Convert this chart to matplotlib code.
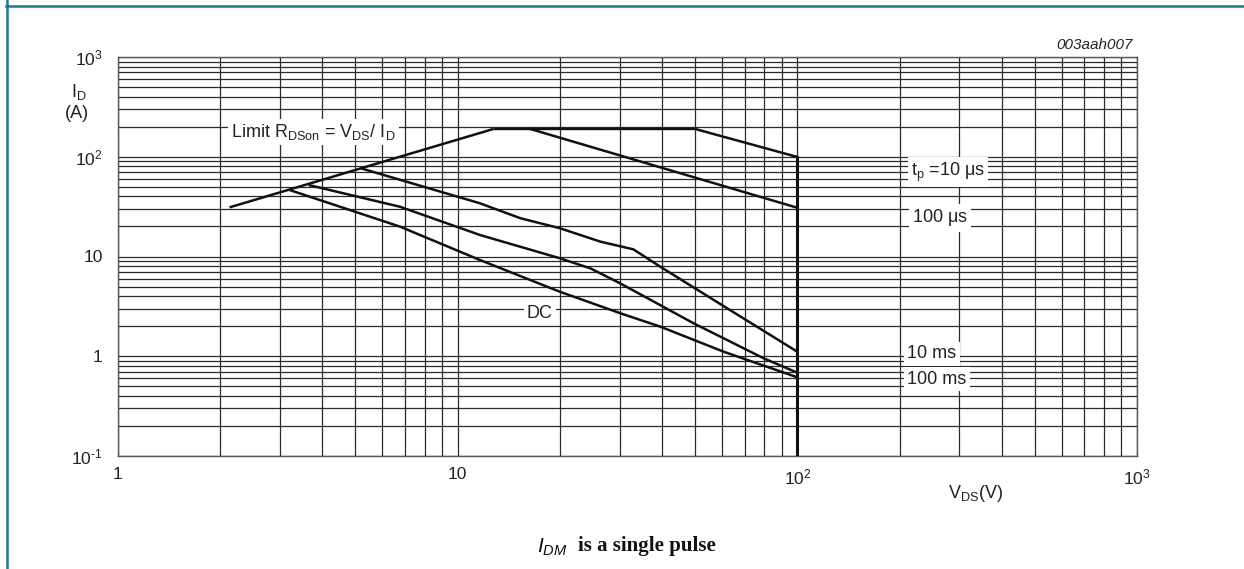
import matplotlib
matplotlib.use("Agg")
import matplotlib.pyplot as plt
from matplotlib.lines import Line2D
from matplotlib.ticker import LogLocator, NullFormatter

plt.rcParams['font.family'] = ['Liberation Sans', 'DejaVu Sans']
plt.rcParams['mathtext.fontset'] = 'custom'
plt.rcParams['mathtext.rm'] = 'Liberation Sans'
plt.rcParams['mathtext.it'] = 'Liberation Sans:italic'

# ---- data ----
rdson_v = [2.13, 12.75]
rdson_i = [31.1, 190]

tp10us_v = [12.75, 50, 100]
tp10us_i = [190, 190, 99.5]

tp100us_v = [16.35, 100]
tp100us_i = [190, 30.8]

tp10ms_v = [5.19, 11.65, 12.75, 15.3, 20, 26.3, 32.9, 39.5, 62.1, 100]
tp10ms_i = [76.6, 34.1, 30.4, 24.2, 19.2, 14.1, 11.8, 7.9, 3.03, 1.11]

tp100ms_v = [3.64, 6.77, 11.65, 20, 24.6, 30.1, 49.5, 79.6, 100]
tp100ms_i = [52.1, 31.5, 16.4, 9.6, 7.6, 5.38, 2.14, 0.954, 0.684]

dc_v = [3.2, 6.77, 11.65, 20, 30.1, 39.5, 60.7, 100]
dc_i = [46.4, 19.9, 9.2, 4.43, 2.70, 1.98, 1.11, 0.615]

vds_max = 100
x_ticks = [1, 10, 100, 1000]
x_ticklabels = ['1', '10', r'$\mathregular{10^2}$', r'$\mathregular{10^3}$']
y_ticks = [0.1, 1, 10, 100, 1000]
y_ticklabels = ['10$^{\\mathregular{\u2010}\\mathregular{1}}$', '1', '10',
                r'$\mathregular{10^2}$', r'$\mathregular{10^3}$']

W, H = 1244, 569
fig = plt.figure(figsize=(W / 100, H / 100), dpi=100)
ax = fig.add_axes([118 / W, 1 - 456 / H, (1137 - 118) / W, (456 - 57) / H])
ax.set_xscale('log')
ax.set_yscale('log')
ax.set_xlim(1, 1000)
ax.set_ylim(0.1, 1000)

ax.xaxis.set_minor_locator(LogLocator(base=10, subs=range(2, 10)))
ax.yaxis.set_minor_locator(LogLocator(base=10, subs=range(2, 10)))
ax.xaxis.set_minor_formatter(NullFormatter())
ax.yaxis.set_minor_formatter(NullFormatter())
ax.grid(True, which='both', color='#2a2a2a', lw=0.9)
ax.set_axisbelow(True)
for s in ax.spines.values():
    s.set_color('#555555')
    s.set_linewidth(1.0)
ax.set_xticks(x_ticks)
ax.set_xticklabels(x_ticklabels)
ax.set_yticks(y_ticks)
ax.set_yticklabels(y_ticklabels)
ax.tick_params(which='both', length=0, labelsize=12.5, colors='#222222')
ax.tick_params(axis='y', pad=11)
ax.tick_params(axis='x', pad=8)

lk = dict(color='#111111', lw=1.8, solid_capstyle='butt', zorder=3)
ax.plot(rdson_v, rdson_i, **lk)
ax.plot(tp10us_v, tp10us_i, **lk)
ax.plot(tp100us_v, tp100us_i, **lk)
ax.plot(tp10ms_v, tp10ms_i, **lk)
ax.plot(tp100ms_v, tp100ms_i, **lk)
ax.plot(dc_v, dc_i, **lk)
ax.plot([vds_max, vds_max], [tp10us_i[-1], 0.1], color='#111111', lw=2.2, zorder=3)

box = dict(facecolor='white', edgecolor='none', pad=2.5)
tk = dict(fontsize=13, color='#222222', zorder=4, bbox=box, va='center', ha='left')


def px(x, y):
    return fig.transFigure.inverted().transform((x, H - y))


fig.text(*px(231, 132), r'Limit R$_\mathregular{DSon}$ = V$_\mathregular{DS}$/ I$_\mathregular{D}$', **tk)
fig.text(*px(911, 172), r't$_\mathregular{p}$ =10 $\mathregular{\mu}$s', **tk)
fig.text(*px(912, 218), r'100 $\mathregular{\mu}$s', **tk)
fig.text(*px(527, 313), 'DC', **tk)
fig.text(*px(907, 354), '10 ms', **tk)
fig.text(*px(907, 379), '100 ms', **tk)

fig.text(*px(1133, 45), '003aah007', fontsize=11, style='italic', color='#222222', ha='right', va='center')
fig.text(*px(79, 92), r'I$_\mathregular{D}$', fontsize=13, color='#222222', ha='center', va='center')
fig.text(*px(77, 113), '(A)', fontsize=13, color='#222222', ha='center', va='center')
fig.text(*px(976, 494), r'V$_\mathregular{DS}$(V)', fontsize=13, color='#222222', ha='center', va='center')

fig.text(*px(537, 547), r'$\mathit{I}_{\mathit{DM}}$', fontsize=15, family='Liberation Serif',
         ha='left', va='center', color='#111111')
fig.text(*px(578, 546), 'is a single pulse', fontsize=15, family='Liberation Serif', weight='bold',
         ha='left', va='center', color='#111111')

# frame border lines
border = '#1a7891'
fig.add_artist(Line2D([6 / W, 1], [1 - 6 / H, 1 - 6 / H], color=border, lw=1.8, transform=fig.transFigure))
fig.add_artist(Line2D([7 / W, 7 / W], [0, 1], color=border, lw=1.8, transform=fig.transFigure))

fig.savefig('out.png', dpi=100)
